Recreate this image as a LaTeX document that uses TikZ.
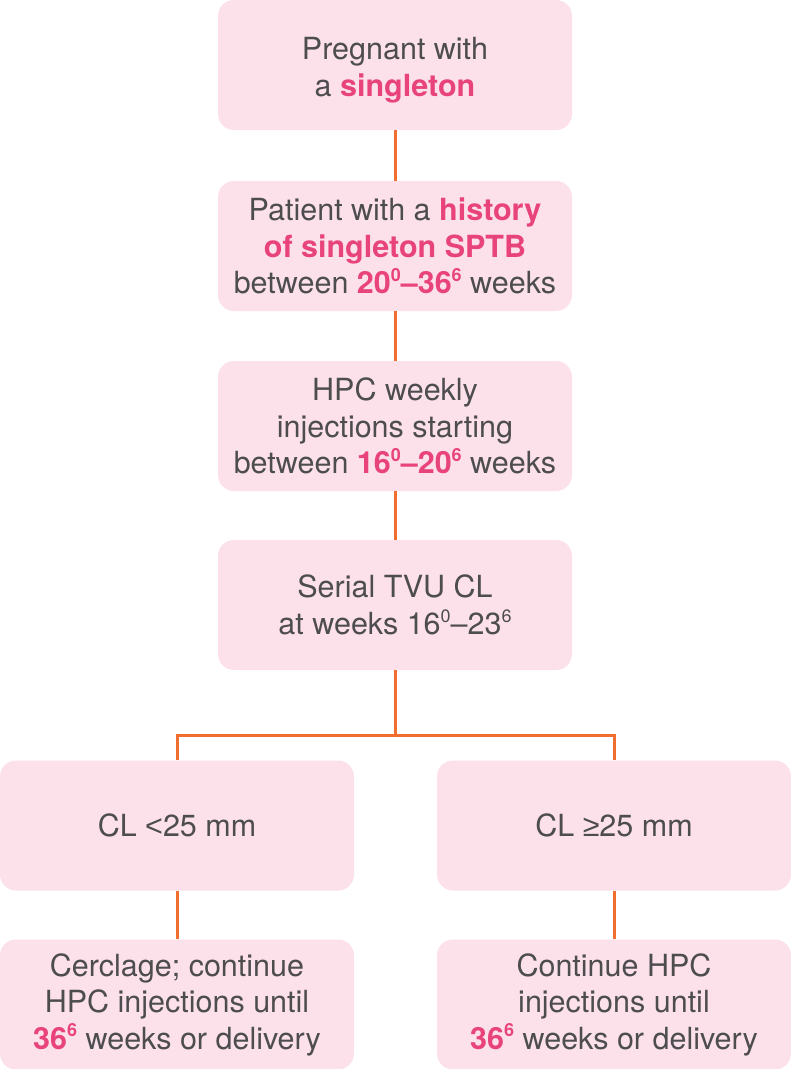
\documentclass[tikz,border=0pt]{standalone}
\usepackage{fontspec}
\setmainfont{TeX Gyre Heros}
\newfontfamily\symfont{Liberation Sans}
\definecolor{boxfill}{HTML}{FCE1EA}
\definecolor{pinktxt}{HTML}{E8437A}
\definecolor{greytxt}{HTML}{4D4D4F}
\definecolor{lineor}{HTML}{F26E2E}
\newcommand\hlp[1]{\textbf{\color{pinktxt}#1}}
\newcommand\spr[1]{\raisebox{0.4em}{\fontsize{18}{18}\selectfont #1}}
\begin{document}
\begin{tikzpicture}[x=1pt,y=-1pt,
  flowbox/.style={fill=boxfill, rounded corners=16pt, minimum width=354pt, minimum height=130pt,
    inner sep=0pt, align=center, text=greytxt, font=\fontsize{30.5}{36.5}\selectfont},
  conn/.style={draw=lineor, line width=3pt}]
\useasboundingbox (0,0) rectangle (791,1069);
\node[flowbox] (b1) at (395,65) {\rule{0pt}{33pt}Pregnant with\\a \hlp{singleton}};
\node[flowbox] (b2) at (395,246) {Patient with a \hlp{history}\\\hlp{of singleton SPTB}\\between \hlp{20\spr{0}--36\spr{6}} weeks};
\node[flowbox] (b3) at (395,426) {HPC weekly\\injections starting\\between \hlp{16\spr{0}--20\spr{6}} weeks};
\node[flowbox] (b4) at (395,605) {Serial TVU CL\\at weeks 16\spr{0}--23\spr{6}};
\node[flowbox] (b5) at (177,825.5) {CL {\symfont <}25 mm};
\node[flowbox] (b6) at (614,825.5) {CL {\symfont ≥}25 mm};
\node[flowbox] (b7) at (177,1004.5) {Cerclage; continue\\HPC injections until\\\hlp{36\spr{6}} weeks or delivery};
\node[flowbox] (b8) at (614,1004.5) {Continue HPC\\injections until\\\hlp{36\spr{6}} weeks or delivery};
\coordinate (br) at (395,735);
\draw[conn] (b1.south) -- (b2.north);
\draw[conn] (b2.south) -- (b3.north);
\draw[conn] (b3.south) -- (b4.north);
\draw[conn] (b4.south) -- (br);
\draw[conn] (b5.north) -- (b5.north |- br) -- (b6.north |- br) -- (b6.north);
\draw[conn] (b5.south) -- (b7.north);
\draw[conn] (b6.south) -- (b8.north);
\end{tikzpicture}
\end{document}
